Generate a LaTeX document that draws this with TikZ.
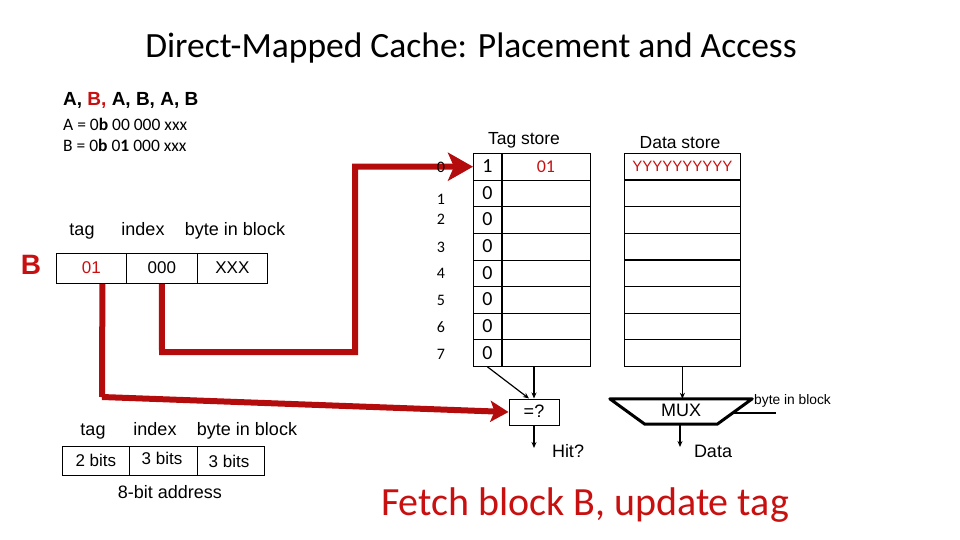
\documentclass[tikz,border=0pt]{standalone}
\usepackage{fontspec}
\setmainfont{Liberation Sans}
\newfontfamily\calfont{Carlito}
\usetikzlibrary{arrows.meta}
\definecolor{txtred}{RGB}{200,16,16}
\definecolor{arrred}{RGB}{180,12,12}
\newcommand{\fsz}[1]{\fontsize{#1}{#1}\selectfont}
\begin{document}
\begin{tikzpicture}[x=1pt,y=-1pt,
  every node/.style={inner sep=0pt},
  fs/.style={font=\fsz{#1}, text height={0.8*#1pt}, text depth={0.2*#1pt}},
  cfs/.style={font=\calfont\fsz{#1}, text height={0.8*#1pt}, text depth={0.2*#1pt}},
  bfs/.style={font=\bfseries\fsz{#1}, text height={0.8*#1pt}, text depth={0.2*#1pt}},
  lbl/.style={fs=18},
  addrcell/.style={draw, line width=0.8pt, minimum height=30pt, anchor=north west, fs=17},
  vcell/.style={draw, line width=0.8pt, minimum width=28pt, minimum height=26.625pt, anchor=north west, cfs=20},
  tcell/.style={draw, line width=0.8pt, minimum width=89pt, minimum height=26.625pt, anchor=north west, cfs=18},
  dcell/.style={draw, line width=0.8pt, minimum width=116pt, minimum height=26.625pt, anchor=north west, fs=15},
  rownum/.style={cfs=16},
  redpath/.style={draw=arrred, line width=6pt, line join=miter},
  bigtipA/.style={-{Stealth[length=25pt,width=28pt,inset=6pt]}},
  bigtipB/.style={-{Stealth[length=18pt,width=21pt,inset=4pt]}},
  smalltip/.style={-{Stealth[length=6pt,width=5pt]}},
  wire/.style={line width=1.2pt}]
\useasboundingbox (0,0) rectangle (960,540);

% title
\node[cfs=35.5] (title) at (471,47) {Direct-Mapped Cache: Placement and Access};

% sequence and addresses
\node[anchor=west, bfs=19] (seq) at (63,100) {A, \textcolor{txtred}{B,} A, B, A, B};
\node[anchor=west, cfs=17.5] (adefA) at (63,125) {A = 0\textbf{b} 00 000 xxx};
\node[anchor=west, cfs=17.5] (adefB) at (63,146) {B = 0\textbf{b} 0\textbf{1} 000 xxx};

% address split for B
\node[lbl] (ltag) at (82,230) {tag};
\node[lbl] (lidx) at (143,230) {index};
\node[lbl] (lbib) at (235,230) {byte in block};
\node[bfs=28] (bname) at (31,266) {\textcolor{txtred}{B}};
\node[addrcell, minimum width=70pt] (c1) at (56,253) {\textcolor{txtred}{01}};
\node[addrcell, minimum width=71pt] (c2) at (126,253) {000};
\node[addrcell, minimum width=70pt] (c3) at (197,253) {XXX};

% tag store / data store
\node[fs=17.5] (tslbl) at (524,139) {Tag store};
\node[fs=17.5] (dslbl) at (680,143) {Data store};
\foreach \i in {0,...,7} {
  \node[vcell] (v\i) at (473,153+\i*26.625) {\ifnum\i=0 1\else 0\fi};
  \node[tcell] (t\i) at (501,153+\i*26.625) {\ifnum\i=0 \textcolor{txtred}{01}\fi};
  \node[dcell] (d\i) at (624,153+\i*26.625) {\ifnum\i=0 \textcolor{txtred}{YYYYYYYYYY}\fi};
}
\draw[line width=2.2pt] (v0.north east) -- (v7.south east);
\draw[line width=2pt] (d0.south west) -- (d0.south east);
\draw[line width=2pt] (d3.south west) -- (d3.south east);

% comparator and mux
\node[draw, line width=1pt, minimum width=50pt, minimum height=26pt, fs=18] (eq) at (534,412) {=?};
\node[minimum width=142pt, minimum height=25pt, fs=18] (mux) at (681,411.5) {MUX};
\draw[line width=3pt, line join=round] (mux.north west) -- (mux.north east) -- ([xshift=-35pt]mux.south east) -- ([xshift=35pt]mux.south west) -- cycle;

\draw[wire, smalltip] (v7.south) -- ([xshift=-5pt]eq.north);
\draw[wire, smalltip] (t7.south -| eq.north) -- (eq.north);
\draw[wire, smalltip] (d7.south) -- (d7.south |- mux.north);

\coordinate (hitend) at (534,448);
\coordinate (dataend) at (680,447);
\draw[wire, smalltip] (eq.south) -- (hitend);
\draw[wire, smalltip] (mux.south -| dataend) -- (dataend);
\node[lbl] (hit) at (568,452) {Hit?};
\node[lbl] (data) at (713,452) {Data};

\node[anchor=west, fs=13.8] (bibsmall) at (754,400) {byte in block};
\coordinate (bibline) at (776,413);
\draw[wire] (bibline) -- (733,413);

% red paths
\coordinate (bend1) at (162,352);
\coordinate (bend2) at (355,352);
\draw[redpath, bigtipA] (c2.south) -- (bend1) -- (bend2) |- (v0.west);
\coordinate (tagdown) at ([xshift=11pt]c1.south);
\coordinate (bend3) at (102,397);
\draw[redpath] (tagdown) -- (bend3);
\draw[redpath, bigtipB] (bend3) -- (eq.west);

% row numbers (on top of the arrow)
\foreach \n/\yy in {0/168,1/200,2/220,3/248,4/274,5/301,6/328,7/355} {
  \node[rownum] (r\n) at (441,\yy) {\n};
}

% bottom address format
\node[lbl] (btag) at (93,430) {tag};
\node[lbl] (bidx) at (155,430) {index};
\node[lbl] (bbib) at (247,430) {byte in block};
\node[addrcell, minimum width=67pt, minimum height=29pt] (b1) at (62,446) {2 bits};
\node[addrcell, minimum width=68pt, minimum height=29pt] (b2) at (129,446) {};
\node[addrcell, minimum width=67pt, minimum height=29pt] (b3) at (197,446) {};
\node[fs=17] (b2t) at (162,459) {3 bits};
\node[fs=17] (b3t) at (229,462) {3 bits};
\node[fs=18] (addr8) at (170,493) {8-bit address};

% caption
\node[cfs=40, text=txtred] (caption) at (585,503) {Fetch block B, update tag};
\end{tikzpicture}
\end{document}
